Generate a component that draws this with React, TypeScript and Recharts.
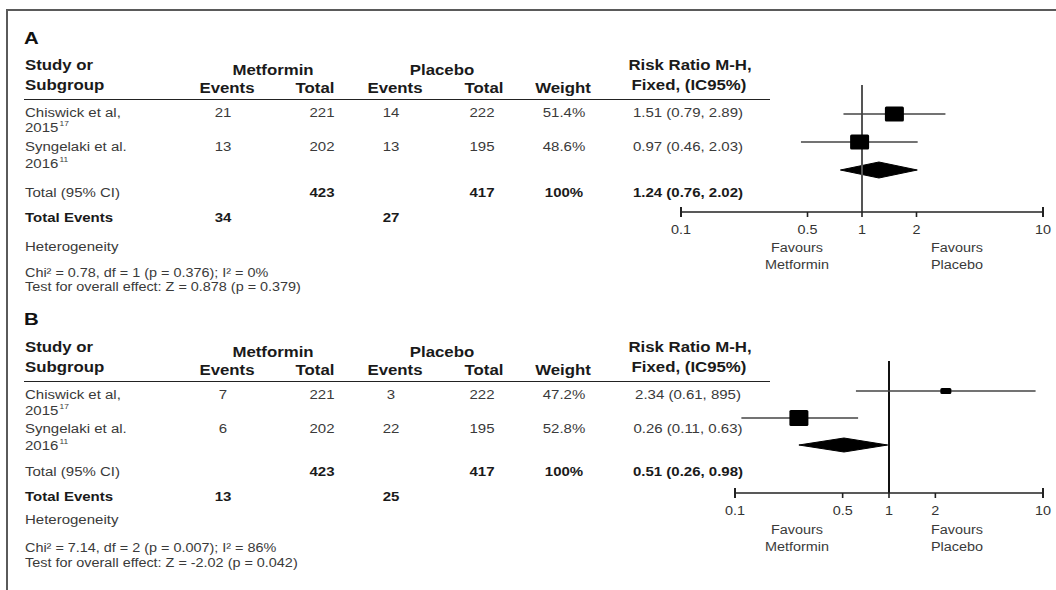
import React from "react";
import { Area, ComposedChart, ErrorBar, ReferenceLine, Scatter, XAxis, YAxis } from "recharts";

// shared study labels
const studyNames = ["Chiswick et al,", "Syngelaki et al."];
const studyYears = ["2015", "2016"];
const studyRefs = ["17", "11"];
const xTicks = [0.1, 0.5, 1, 2, 10];

// panel A
const aMetEvents = [21, 13];
const aMetTotal = [221, 202];
const aPlaEvents = [14, 13];
const aPlaTotal = [222, 195];
const aWeight = ["51.4%", "48.6%"];
const aRR = [1.51, 0.97];
const aLo = [0.79, 0.46];
const aHi = [2.89, 2.03];
const aRRText = ["1.51 (0.79, 2.89)", "0.97 (0.46, 2.03)"];
const aTotals = [423, 417];
const aTotalRR = [1.24, 0.76, 2.02];
const aTotalText = "1.24 (0.76, 2.02)";
const aTotalEvents = [34, 27];
const aStats = ["Chi\u00b2 = 0.78, df = 1 (p = 0.376); I\u00b2 = 0%", "Test for overall effect: Z = 0.878 (p = 0.379)"];

// panel B
const bMetEvents = [7, 6];
const bMetTotal = [221, 202];
const bPlaEvents = [3, 22];
const bPlaTotal = [222, 195];
const bWeight = ["47.2%", "52.8%"];
const bRR = [2.34, 0.26];
const bLo = [0.61, 0.11];
const bHi = [8.95, 0.63];
const bRRText = ["2.34 (0.61, 895)", "0.26 (0.11, 0.63)"];
const bTotals = [423, 417];
const bTotalRR = [0.51, 0.26, 0.98];
const bTotalText = "0.51 (0.26, 0.98)";
const bTotalEvents = [13, 25];
const bStats = ["Chi\u00b2 = 7.14, df = 2 (p = 0.007); I\u00b2 = 86%", "Test for overall effect: Z = -2.02 (p = 0.042)"];

const FONT = "'Liberation Sans', Arial, Helvetica, sans-serif";
const SX = 1.2; // the source picture is stretched sideways
const TICK_SIZE = 5;
const TICK_MARGIN = 8;

type Anchor = "start" | "middle" | "end";

function T({
  x,
  y,
  a = "start",
  b = false,
  s = 12.5,
  c,
  children,
}: {
  x: number;
  y: number;
  a?: Anchor;
  b?: boolean;
  s?: number;
  c?: string;
  children: React.ReactNode;
}) {
  const origin = a === "start" ? "0% 50%" : a === "end" ? "100% 50%" : "50% 50%";
  const tx = a === "start" ? "0%" : a === "end" ? "-100%" : "-50%";
  return (
    <div
      style={{
        position: "absolute",
        left: x,
        top: y,
        whiteSpace: "nowrap",
        lineHeight: 1,
        fontSize: s,
        fontWeight: b ? 700 : 400,
        color: c ?? (b ? "#1a1a1a" : "#3a3a3a"),
        transformOrigin: origin,
        transform: `translate(${tx}, -50%) scaleX(${SX})`,
      }}
    >
      {children}
    </div>
  );
}

const COL = { study: 25, metE: 223, metT: 322, plaE: 391, plaT: 482, weight: 564, rr: 688 };

type Rows = {
  label: number; h1: number; grp: number; h2: number; col: number; rule: number;
  r: number[]; rb: number[]; tot: number; ev: number; het: number; chi: number; test: number;
};

const Y_A: Rows = { label: 38, h1: 65, grp: 70, h2: 85, col: 88, rule: 100, r: [113, 147], rb: [128, 164], tot: 193, ev: 218, het: 247, chi: 273, test: 287 };
const Y_B: Rows = { label: 319, h1: 347, grp: 352, h2: 367, col: 370, rule: 382, r: [395, 429], rb: [411, 446], tot: 472, ev: 497, het: 520, chi: 548, test: 563 };

function TablePanel(p: {
  y: Rows; label: string; metE: number[]; metT: number[]; plaE: number[]; plaT: number[];
  weight: string[]; rrText: string[]; totals: number[]; totalText: string; events: number[]; stats: string[];
}) {
  const y = p.y;
  return (
    <>
      <T x={24} y={y.label} b s={17} c="#111">{p.label}</T>
      <T x={COL.study} y={y.h1} b s={14}>Study or</T>
      <T x={COL.study} y={y.h2} b s={14}>Subgroup</T>
      <T x={273} y={y.grp} a="middle" b s={14}>Metformin</T>
      <T x={442} y={y.grp} a="middle" b s={14}>Placebo</T>
      <T x={227} y={y.col} a="middle" b s={14}>Events</T>
      <T x={315} y={y.col} a="middle" b s={14}>Total</T>
      <T x={395} y={y.col} a="middle" b s={14}>Events</T>
      <T x={484} y={y.col} a="middle" b s={14}>Total</T>
      <T x={563} y={y.col} a="middle" b s={14}>Weight</T>
      <T x={690} y={y.h1} a="middle" b s={14}>Risk Ratio M-H,</T>
      <T x={689} y={y.h2} a="middle" b s={14}>Fixed, (IC95%)</T>
      <div style={{ position: "absolute", left: 24, top: y.rule - 1, width: 746, height: 0, borderTop: "1.6px solid #222" }} />
      {studyNames.map((n, i) => (
        <React.Fragment key={n}>
          <T x={COL.study} y={y.r[i]}>{n}</T>
          <T x={COL.study} y={y.rb[i]}>
            {studyYears[i]}
            <span style={{ fontSize: 7, position: "relative", top: -6, marginLeft: 1 }}>{studyRefs[i]}</span>
          </T>
          <T x={COL.metE} y={y.r[i]} a="middle">{p.metE[i]}</T>
          <T x={COL.metT} y={y.r[i]} a="middle">{p.metT[i]}</T>
          <T x={COL.plaE} y={y.r[i]} a="middle">{p.plaE[i]}</T>
          <T x={COL.plaT} y={y.r[i]} a="middle">{p.plaT[i]}</T>
          <T x={COL.weight} y={y.r[i]} a="middle">{p.weight[i]}</T>
          <T x={COL.rr} y={y.r[i]} a="middle">{p.rrText[i]}</T>
        </React.Fragment>
      ))}
      <T x={COL.study} y={y.tot}>Total (95% CI)</T>
      <T x={COL.metT} y={y.tot} a="middle" b>{p.totals[0]}</T>
      <T x={COL.plaT} y={y.tot} a="middle" b>{p.totals[1]}</T>
      <T x={COL.weight} y={y.tot} a="middle" b>100%</T>
      <T x={COL.rr} y={y.tot} a="middle" b>{p.totalText}</T>
      <T x={COL.study} y={y.ev} b>Total Events</T>
      <T x={COL.metE} y={y.ev} a="middle" b>{p.events[0]}</T>
      <T x={COL.plaE} y={y.ev} a="middle" b>{p.events[1]}</T>
      <T x={COL.study} y={y.het}>Heterogeneity</T>
      <T x={COL.study} y={y.chi} s={12}>{p.stats[0]}</T>
      <T x={COL.study} y={y.test} s={12}>{p.stats[1]}</T>
    </>
  );
}

const ForestTick = (props: any) => {
  const { x, y, payload } = props;
  const end = payload.value === xTicks[0] || payload.value === xTicks[xTicks.length - 1];
  return (
    <g>
      {end && (
        <line x1={x} x2={x} y1={y - TICK_MARGIN - TICK_SIZE - 5} y2={y - TICK_MARGIN} stroke="#222" strokeWidth={2} />
      )}
      <text
        transform={`translate(${x},${y}) scale(${SX},1)`}
        textAnchor="middle"
        dy="0.71em"
        fontSize={12}
        fontFamily={FONT}
        fill="#333"
      >
        {payload.value}
      </text>
    </g>
  );
};

function Forest(p: {
  rr: number[]; lo: number[]; hi: number[]; total: number[];
  left: number; top: number; height: number; marginLeft: number;
  yDomain: [number, number]; boxes: number[][]; half: number; refColor: string;
}) {
  const points = p.rr.map((v, i) => ({ x: v, y: i, err: [v - p.lo[i], p.hi[i] - v] }));
  const row = p.rr.length;
  const [est, lo, hi] = p.total;
  const diamond = [
    { x: lo, band: [row, row] },
    { x: est, band: [row - p.half, row + p.half] },
    { x: hi, band: [row, row] },
  ];
  return (
    <div style={{ position: "absolute", left: p.left, top: p.top }}>
      <ComposedChart width={396} height={p.height} data={diamond} margin={{ top: 15, right: 13, bottom: 0, left: p.marginLeft }}>
        <XAxis
          dataKey="x"
          type="number"
          scale="log"
          domain={[0.1, 10]}
          ticks={xTicks}
          allowDataOverflow
          height={30}
          axisLine={{ stroke: "#222", strokeWidth: 1.6 }}
          tickLine={{ stroke: "#222", strokeWidth: 1.6 }}
          tickSize={TICK_SIZE}
          tickMargin={TICK_MARGIN}
          tick={<ForestTick />}
          interval={0}
        />
        <YAxis dataKey="y" type="number" domain={p.yDomain} reversed hide allowDataOverflow width={0} />
        <ReferenceLine x={1} stroke={p.refColor} strokeWidth={2} />
        <Area
          dataKey="band"
          type="linear"
          stroke="#000"
          strokeWidth={1}
          fill="#000"
          fillOpacity={1}
          dot={false}
          activeDot={false}
          isAnimationActive={false}
        />
        <Scatter
          data={points}
          isAnimationActive={false}
          shape={(s: any) => {
            const [w, h] = p.boxes[s.payload.y];
            return <rect x={s.cx - w / 2} y={s.cy - h / 2} width={w} height={h} rx={1.5} fill="#000" />;
          }}
        >
          <ErrorBar dataKey="err" direction="x" width={0} stroke="#444" strokeWidth={1.3} />
        </Scatter>
      </ComposedChart>
    </div>
  );
}

function Favours({ y }: { y: number }) {
  return (
    <>
      <T x={797} y={y} a="middle" s={12}>Favours</T>
      <T x={797} y={y + 17} a="middle" s={12}>Metformin</T>
      <T x={957} y={y} a="middle" s={12}>Favours</T>
      <T x={957} y={y + 17} a="middle" s={12}>Placebo</T>
    </>
  );
}

export default function App() {
  return (
    <div
      style={{
        position: "absolute",
        left: 0,
        top: 0,
        width: 1056,
        height: 590,
        overflow: "hidden",
        background: "#fff",
        fontFamily: FONT,
      }}
    >
      <div
        style={{
          position: "absolute",
          left: 6,
          top: 9,
          width: 1100,
          height: 700,
          borderLeft: "2px solid #5a5a5a",
          borderTop: "2px solid #5a5a5a",
        }}
      />
      <TablePanel
        y={Y_A} label="A" metE={aMetEvents} metT={aMetTotal} plaE={aPlaEvents} plaT={aPlaTotal}
        weight={aWeight} rrText={aRRText} totals={aTotals} totalText={aTotalText} events={aTotalEvents} stats={aStats}
      />
      <TablePanel
        y={Y_B} label="B" metE={bMetEvents} metT={bMetTotal} plaE={bPlaEvents} plaT={bPlaTotal}
        weight={bWeight} rrText={bRRText} totals={bTotals} totalText={bTotalText} events={bTotalEvents} stats={bStats}
      />
      <Forest
        rr={aRR} lo={aLo} hi={aHi} total={aTotalRR}
        left={660} top={70} height={172} marginLeft={21}
        yDomain={[-29 / 28, 98 / 28]} boxes={[[19, 15], [19, 15]]} half={8 / 28} refColor="#555"
      />
      <Forest
        rr={bRR} lo={bLo} hi={bHi} total={bTotalRR}
        left={660} top={346} height={177} marginLeft={75}
        yDomain={[-30 / 27, 102 / 27]} boxes={[[11, 6], [19, 16]]} half={7 / 27} refColor="#111"
      />
      <Favours y={248} />
      <Favours y={530} />
    </div>
  );
}
